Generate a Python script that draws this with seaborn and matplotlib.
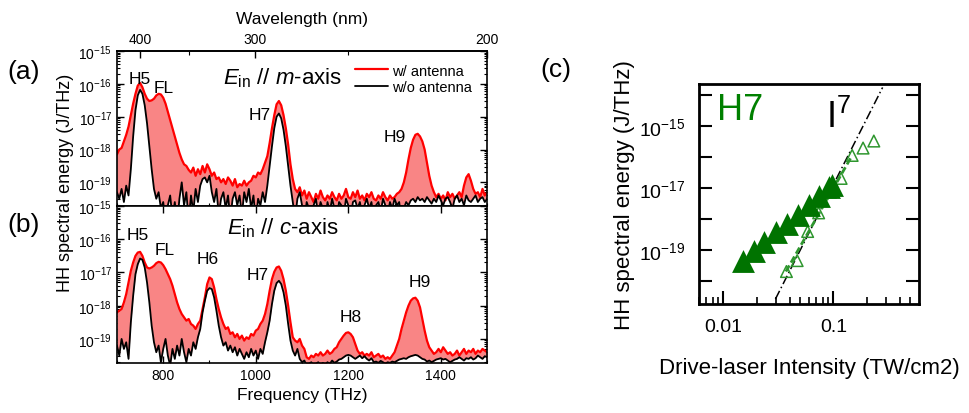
import numpy as np
import pandas as pd
import matplotlib
matplotlib.use('Agg')
import matplotlib.pyplot as plt
import seaborn as sns
from matplotlib.ticker import (LogLocator, MultipleLocator, NullFormatter,
                               NullLocator, FixedLocator, FuncFormatter)

# frequency sampling of the spectra (THz)
freq = np.arange(700, 1505, 5)

# log10 of HH spectral energy (J/THz) -- panel (a), E_in // m-axis
m_with = [
    -18.15, -18.0, -17.95, -17.75, -17.55, -17.3, -16.95, -16.6, -16.3, -16.05,
    -15.97, -16.1, -16.3, -16.45, -16.52, -16.5, -16.45, -16.35, -16.3, -16.32,
    -16.42, -16.6, -16.85, -17.1, -17.35, -17.6, -17.85, -18.1, -18.3, -18.45,
    -18.5, -18.62, -18.7, -18.55, -18.8, -18.6, -18.75, -18.5, -18.7, -18.45,
    -18.6, -18.8, -18.7, -18.9, -18.85, -19.0, -18.9, -19.05, -18.85, -18.95,
    -19.1, -18.9, -19.15, -19.05, -19.1, -18.95, -19.1, -19.0, -18.95, -18.8,
    -18.85, -18.7, -18.75, -18.6, -18.4, -18.2, -17.8, -17.35, -16.95, -16.62,
    -16.52, -16.65, -16.95, -17.35, -17.85, -18.45, -18.9, -19.2, -19.3, -19.15,
    -19.4, -19.25, -19.5, -19.3, -19.45, -19.6, -19.35, -19.5, -19.25, -19.45,
    -19.55, -19.4, -19.5, -19.3, -19.45, -19.55, -19.35, -19.5, -19.4, -19.2,
    -19.45, -19.5, -19.3, -19.45, -19.25, -19.5, -19.4, -19.55, -19.35, -19.45,
    -19.3, -19.5, -19.55, -19.4, -19.5, -19.3, -19.45, -19.55, -19.4, -19.5,
    -19.45, -19.35, -19.3, -19.2, -19.0, -18.7, -18.3, -17.95, -17.7, -17.55,
    -17.52, -17.6, -17.75, -18.0, -18.4, -18.8, -19.1, -19.3, -19.45, -19.35,
    -19.5, -19.4, -19.55, -19.3, -19.45, -19.35, -19.5, -19.4, -19.3, -19.45,
    -19.1, -18.85, -18.75, -18.95, -19.2, -19.35, -19.3, -19.45, -19.2, -19.4,
    -19.3]
m_without = [
    -19.3, -19.5, -19.2, -19.6, -19.1, -19.4, -18.6, -17.6, -16.8, -16.35,
    -16.18, -16.3, -16.65, -17.2, -17.9, -18.6, -19.2, -19.5, -19.3, -19.8,
    -19.6, -20.2, -19.7, -19.4, -20.1, -19.6, -20.3, -19.5, -19.0, -19.7,
    -19.3, -20.2, -19.4, -19.9, -19.2, -19.6, -19.1, -18.9, -18.85, -19.0,
    -18.8, -19.3, -19.6, -19.2, -20.0, -19.5, -19.3, -19.8, -19.4, -20.1,
    -19.5, -19.3, -19.7, -19.4, -20.0, -19.3, -19.6, -19.2, -19.8, -19.4,
    -20.2, -19.5, -19.7, -19.3, -19.6, -19.1, -18.5, -17.9, -17.35, -17.0,
    -16.9, -17.05, -17.4, -17.9, -18.5, -19.1, -19.6, -20.1, -19.5, -19.3,
    -19.7, -20.2, -19.6, -19.8, -20.3, -19.7, -19.5, -20.0, -19.6, -19.8,
    -20.2, -19.6, -19.9, -19.5, -19.8, -20.1, -19.6, -19.7, -20.0, -19.5,
    -19.7, -20.1, -19.6, -19.55, -19.8, -19.6, -20.0, -19.7, -19.5, -19.8,
    -19.6, -20.1, -19.7, -19.6, -19.9, -19.5, -19.7, -20.0, -19.6, -19.8,
    -19.5, -19.7, -19.6, -20.2, -19.8, -19.6, -19.7, -19.55, -19.5, -19.6,
    -19.45, -19.55, -19.5, -19.6, -19.45, -19.55, -19.65, -19.5, -19.6, -19.4,
    -19.55, -19.7, -19.5, -19.45, -19.6, -19.8, -19.5, -19.4, -19.6, -19.5,
    -19.7, -19.4, -19.55, -19.6, -19.5, -19.4, -19.6, -19.5, -19.45, -19.6,
    -19.5]

# log10 of HH spectral energy (J/THz) -- panel (b), E_in // c-axis
c_with = [
    -18.2, -18.15, -18.1, -17.9, -17.65, -17.3, -16.95, -16.7, -16.5, -16.4,
    -16.38, -16.5, -16.7, -16.85, -16.88, -16.85, -16.8, -16.72, -16.68, -16.7,
    -16.78, -16.9, -17.05, -17.2, -17.4, -17.65, -17.9, -18.1, -18.25, -18.35,
    -18.45, -18.4, -18.55, -18.6, -18.7, -18.55, -18.45, -18.1, -17.75, -17.35,
    -17.15, -17.2, -17.45, -17.8, -18.1, -18.35, -18.55, -18.7, -18.65, -18.85,
    -18.8, -18.95, -18.85, -19.0, -18.9, -19.05, -18.95, -19.0, -18.85, -18.9,
    -18.75, -18.7, -18.55, -18.45, -18.25, -17.95, -17.55, -17.2, -16.98, -16.85,
    -16.82, -16.95, -17.2, -17.55, -18.0, -18.5, -18.95, -19.05, -19.1, -19.0,
    -19.2, -19.3, -19.55, -19.6, -19.5, -19.55, -19.45, -19.5, -19.4, -19.5,
    -19.45, -19.35, -19.45, -19.4, -19.3, -19.25, -19.1, -19.0, -18.9, -18.82,
    -18.8, -18.85, -18.95, -19.15, -19.35, -19.45, -19.4, -19.5, -19.45, -19.5,
    -19.4, -19.55, -19.5, -19.45, -19.55, -19.5, -19.6, -19.55, -19.6, -19.5,
    -19.4, -19.2, -19.0, -18.7, -18.45, -18.2, -18.0, -17.85, -17.78, -17.76,
    -17.85, -18.05, -18.4, -18.75, -19.05, -19.25, -19.35, -19.45, -19.4, -19.3,
    -19.4, -19.25, -19.35, -19.45, -19.4, -19.5, -19.45, -19.35, -19.5, -19.4,
    -19.3, -19.45, -19.35, -19.4, -19.3, -19.45, -19.35, -19.4, -19.3, -19.35,
    -19.4]
c_without = [
    -19.2, -19.5, -19.0, -19.3, -19.1, -19.6, -18.5, -17.7, -17.05, -16.75,
    -16.58, -16.62, -16.85, -17.3, -17.9, -18.6, -19.1, -19.4, -19.2, -19.7,
    -19.3, -19.0, -19.5, -19.8, -19.3, -19.6, -19.2, -19.5, -19.0, -19.4,
    -19.7, -19.3, -19.5, -19.1, -19.3, -18.95, -18.7, -18.2, -17.85, -17.55,
    -17.47, -17.5, -17.75, -18.15, -18.6, -18.95, -19.2, -19.1, -19.35, -19.2,
    -19.4, -19.25, -19.5, -19.3, -19.45, -19.6, -19.4, -19.55, -19.3, -19.5,
    -19.35, -19.6, -19.3, -19.45, -19.1, -18.8, -18.45, -17.95, -17.55, -17.32,
    -17.25, -17.35, -17.6, -18.0, -18.55, -19.05, -19.35, -19.5, -19.3, -19.6,
    -19.7, -19.65, -19.8, -19.75, -19.7, -19.8, -19.75, -19.7, -19.8, -19.72,
    -19.78, -19.7, -19.75, -19.65, -19.72, -19.68, -19.62, -19.6, -19.55, -19.5,
    -19.48, -19.5, -19.55, -19.6, -19.55, -19.5, -19.58, -19.52, -19.6, -19.65,
    -19.58, -19.7, -19.68, -19.72, -19.66, -19.7, -19.75, -19.7, -19.72, -19.68,
    -19.7, -19.66, -19.62, -19.6, -19.58, -19.6, -19.55, -19.52, -19.5, -19.48,
    -19.5, -19.55, -19.6, -19.62, -19.68, -19.65, -19.7, -19.66, -19.62, -19.6,
    -19.58, -19.62, -19.6, -19.65, -19.7, -19.66, -19.62, -19.6, -19.55, -19.6,
    -19.65, -19.58, -19.6, -19.55, -19.62, -19.58, -19.5, -19.55, -19.6, -19.52,
    -19.55]

# panel (c): H7 energy vs drive-laser intensity (TW/cm2)
h7_with_I = [0.0151, 0.0189, 0.0236, 0.0303, 0.0379, 0.0473, 0.0597, 0.0735, 0.0906, 0.098]
h7_with_E = [4.5e-20, 8.9e-20, 1.8e-19, 3.7e-19, 6.9e-19, 1.3e-18, 2.8e-18, 5.6e-18, 1.05e-17, 1.25e-17]
h7_without_I = [0.0374, 0.0468, 0.0583, 0.0734, 0.094, 0.1175, 0.148, 0.186, 0.233]
h7_without_E = [2.0e-20, 4.5e-20, 3.9e-19, 1.55e-18, 7.2e-18, 2.0e-17, 1.1e-16, 1.9e-16, 3.2e-16]
fit_without_I = [0.037, 0.148]
fit_without_E = [2.0e-20, 1.1e-16]
slope7_I = [0.0297, 0.28]
slope7_E = [2.6e-21, 1.7e-14]

RED = '#ff0000'
FILL = '#f98585'
DARK_GREEN = '#007300'
OPEN_GREEN = '#2e962e'
SPEC_YLIM = (1.9e-20, 1e-15)


def f2w(f):
    f = np.asarray(f, dtype=float)
    with np.errstate(divide='ignore', invalid='ignore'):
        return 299792.458 / f


def draw_spectrum(ax, with_log, without_log):
    df = pd.DataFrame({'freq': freq,
                       'with': 10.0 ** np.array(with_log),
                       'without': 10.0 ** np.array(without_log)})
    ax.set_yscale('log')
    ax.fill_between(df['freq'], df['without'], df['with'],
                    where=df['with'] > df['without'], interpolate=True,
                    color=FILL, lw=0)
    sns.lineplot(data=df, x='freq', y='with', ax=ax, color=RED, lw=1.6,
                 label='w/ antenna')
    sns.lineplot(data=df, x='freq', y='without', ax=ax, color='black', lw=1.3,
                 label='w/o antenna')
    ax.set_xlim(700, 1500)
    ax.set_ylim(*SPEC_YLIM)
    ax.set_xlabel('')
    ax.set_ylabel('')
    # only ticks inside the visible range
    major = [10.0 ** k for k in range(-19, -14)]
    minor = [m * 10.0 ** k for k in range(-20, -15) for m in range(2, 10)
             if SPEC_YLIM[0] <= m * 10.0 ** k <= SPEC_YLIM[1]]
    ax.yaxis.set_major_locator(FixedLocator(major))
    ax.yaxis.set_minor_locator(FixedLocator(minor))
    ax.yaxis.set_minor_formatter(NullFormatter())
    ax.xaxis.set_major_locator(MultipleLocator(200))
    ax.xaxis.set_minor_locator(MultipleLocator(100))
    ax.tick_params(which='both', direction='in', right=True, labelsize=10)
    ax.tick_params(which='major', length=5, width=1)
    ax.tick_params(which='minor', length=2.5, width=0.8)
    for sp in ax.spines.values():
        sp.set_linewidth(1.2)
        sp.set_color('black')


sns.set_theme(style='ticks')
plt.rcParams['font.family'] = ['Liberation Sans', 'DejaVu Sans']
plt.rcParams['mathtext.fontset'] = 'custom'
plt.rcParams['mathtext.rm'] = 'Liberation Sans'
plt.rcParams['mathtext.it'] = 'Liberation Sans:italic'
for key in ['text.color', 'axes.labelcolor', 'xtick.color', 'ytick.color', 'axes.edgecolor']:
    plt.rcParams[key] = 'black'

fig = plt.figure(figsize=(9.69, 4.14), dpi=100)
ax_a = fig.add_axes([0.1207, 0.5, 0.382, 0.374])
ax_b = fig.add_axes([0.1207, 0.121, 0.382, 0.379])
ax_c = fig.add_axes([0.7214, 0.2633, 0.227, 0.5314])

# (a)
draw_spectrum(ax_a, m_with, m_without)
ax_a.tick_params(axis='x', labelbottom=False, top=False)
leg = ax_a.legend(loc='upper right', bbox_to_anchor=(0.96, 0.92), frameon=False,
                  fontsize=10.5, handlelength=2.3, handletextpad=0.3,
                  labelspacing=0.2, borderpad=0, borderaxespad=0)
secax = ax_a.secondary_xaxis('top', functions=(f2w, f2w))
secax.xaxis.set_major_locator(FixedLocator([400, 300, 200]))
secax.xaxis.set_minor_locator(FixedLocator([350, 250]))
secax.tick_params(which='both', direction='in', labelsize=10)
secax.tick_params(which='major', length=5, width=1)
secax.tick_params(which='minor', length=3, width=0.8)
secax.set_xlabel('Wavelength (nm)', fontsize=12.5, labelpad=7)

ax_a.text(750, 10**-15.82, 'H5', ha='center', va='center', fontsize=12.5)
ax_a.text(800, 10**-16.1, 'FL', ha='center', va='center', fontsize=12.5)
ax_a.text(1009, 10**-16.94, 'H7', ha='center', va='center', fontsize=12.5)
ax_a.text(1301, 10**-17.6, 'H9', ha='center', va='center', fontsize=12.5)
ax_a.text(1057, 10**-15.8, r'$E_{\mathrm{in}}$ // $m$-axis', ha='center',
          va='center', fontsize=16)

# (b)
draw_spectrum(ax_b, c_with, c_without)
ax_b.get_legend().remove()
ax_b.tick_params(axis='x', top=True)
ax_b.set_xlabel('Frequency (THz)', fontsize=12.5, labelpad=4)
ax_b.text(746, 10**-15.85, 'H5', ha='center', va='center', fontsize=12.5)
ax_b.text(804, 10**-16.3, 'FL', ha='center', va='center', fontsize=12.5)
ax_b.text(897, 10**-16.58, 'H6', ha='center', va='center', fontsize=12.5)
ax_b.text(1005, 10**-17.06, 'H7', ha='center', va='center', fontsize=12.5)
ax_b.text(1205, 10**-18.33, 'H8', ha='center', va='center', fontsize=12.5)
ax_b.text(1355, 10**-17.27, 'H9', ha='center', va='center', fontsize=12.5)
ax_b.text(1059, 10**-15.64, r'$E_{\mathrm{in}}$ // $c$-axis', ha='center',
          va='center', fontsize=16)

fig.text(0.068, 0.558, 'HH spectral energy (J/THz)', rotation=90,
         ha='center', va='center', fontsize=13)
fig.text(0.024, 0.826, '(a)', ha='center', va='center', fontsize=19)
fig.text(0.024, 0.457, '(b)', ha='center', va='center', fontsize=19)
fig.text(0.574, 0.831, '(c)', ha='center', va='center', fontsize=19)

# (c)
ax_c.set_xscale('log')
ax_c.set_yscale('log')
sns.lineplot(x=slope7_I, y=slope7_E, ax=ax_c, color='black', lw=1.1,
             linestyle=(0, (6, 2, 1, 2)))
sns.lineplot(x=fit_without_I, y=fit_without_E, ax=ax_c, color=OPEN_GREEN, lw=2,
             linestyle=(0, (2.5, 1.2)))
sns.scatterplot(x=h7_without_I, y=h7_without_E, ax=ax_c, marker='^', s=70,
                facecolor='none', edgecolor=OPEN_GREEN, linewidth=1.1, zorder=3)
sns.scatterplot(x=h7_with_I, y=h7_with_E, ax=ax_c, marker='^', s=270,
                color=DARK_GREEN, edgecolor=DARK_GREEN, linewidth=0, zorder=4)
ax_c.set_xlim(0.006, 0.6)
ax_c.set_ylim(1.8e-21, 2.2e-14)
ax_c.set_yticks([10.0 ** k for k in range(-20, -13)])
ax_c.yaxis.set_minor_locator(NullLocator())
ax_c.yaxis.set_major_formatter(FuncFormatter(
    lambda v, pos: r'$\mathdefault{10^{%d}}$' % round(np.log10(v))
    if round(np.log10(v)) in (-15, -17, -19) else ''))
ax_c.set_xticks([0.01, 0.1])
ax_c.set_xticklabels(['0.01', '0.1'])
ax_c.xaxis.set_minor_locator(FixedLocator(
    [m * 10.0 ** k for k in (-3, -2, -1) for m in range(2, 10)
     if 0.006 <= m * 10.0 ** k <= 0.6]))
ax_c.xaxis.set_minor_formatter(NullFormatter())
ax_c.tick_params(which='both', direction='in', right=True, top=False, labelsize=14)
ax_c.tick_params(which='major', length=9.5, width=1.5, pad=10)
ax_c.tick_params(which='minor', length=5, width=1.2)
for sp in ax_c.spines.values():
    sp.set_linewidth(2)
    sp.set_color('black')
ax_c.set_xlabel('Drive-laser Intensity (TW/cm2)', fontsize=16, labelpad=16)
ax_c.set_ylabel('HH spectral energy (J/THz)', fontsize=16, labelpad=3)
ax_c.text(0.08, 0.886, 'H7', transform=ax_c.transAxes, color='#008000',
          fontsize=26, ha='left', va='center')
ax_c.text(0.575, 0.805, r'$\mathregular{I^{7}}$', transform=ax_c.transAxes,
          color='black', fontsize=26, ha='left', va='baseline')

fig.savefig('out.png', dpi=100)
